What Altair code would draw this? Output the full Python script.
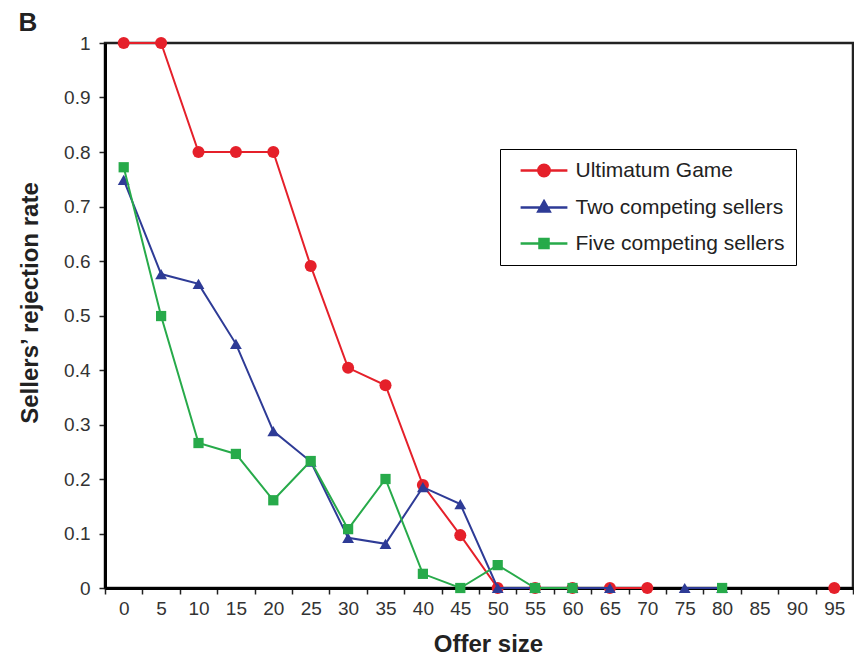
import altair as alt
import pandas as pd

# ---- data ----
offers = [0, 5, 10, 15, 20, 25, 30, 35, 40, 45, 50, 55, 60, 65, 70, 75, 80, 85, 90, 95]
ultimatum = [1.0, 1.0, 0.8, 0.8, 0.8, 0.591, 0.404, 0.372, 0.189, 0.097,
             0.0, 0.0, 0.0, 0.0, 0.0, None, None, None, None, 0.0]
two_sellers = [0.749, 0.576, 0.558, 0.448, 0.288, 0.232, 0.092, 0.081, 0.185, 0.154,
               0.0, 0.0, 0.0, 0.0, None, 0.0, 0.0, None, None, None]
five_sellers = [0.772, 0.499, 0.266, 0.246, 0.161, 0.233, 0.108, 0.2, 0.026, 0.0,
                0.042, 0.0, 0.0, None, None, None, 0.0, None, None, None]

series_names = ["Ultimatum Game", "Two competing sellers", "Five competing sellers"]
series_colors = ["#E5202A", "#2E3B96", "#27AA4A"]
series_shapes = ["circle", "triangle-up", "square"]
series_sizes = [145, 140, 105]
legend_paths = [
    "M-3.9,0H3.9M-0.95,0A0.95,0.95,0,1,0,0.95,0A0.95,0.95,0,1,0,-0.95,0Z",
    "M-3.9,0H3.9M0,-1.05L0.95,0.65L-0.95,0.65Z",
    "M-3.9,0H3.9M-0.75,-0.75H0.75V0.75H-0.75Z",
]
y_ticks = [0, 0.1, 0.2, 0.3, 0.4, 0.5, 0.6, 0.7, 0.8, 0.9, 1.0]

rows = []
for name, vals in zip(series_names, [ultimatum, two_sellers, five_sellers]):
    for o, v in zip(offers, vals):
        rows.append({"offer": o, "rate": v, "series": name})
df = pd.DataFrame(rows)

FONT = "Liberation Sans"
W, H = 748, 545

x_enc = alt.X(
    "offer:O",
    sort=offers,
    bandPosition=0.5,
    scale=alt.Scale(type="band", paddingInner=0, paddingOuter=0),
    axis=alt.Axis(
        title="Offer size", labelAngle=0, tickBand="extent", grid=False,
        domainColor="black", domainWidth=3, tickColor="#222", tickWidth=1.5, tickSize=6,
        labelFont=FONT, labelFontSize=19, labelColor="#333", labelPadding=5,
        titleFont=FONT, titleFontSize=24, titleFontWeight="bold", titleColor="#222",
        titlePadding=14, titleX=W / 2 + 9,
    ),
)
y_enc = alt.Y(
    "rate:Q",
    scale=alt.Scale(domain=[0, 1], nice=False),
    axis=alt.Axis(
        title="Sellers\u2019 rejection rate", values=y_ticks, format=".1~f", grid=False,
        domainColor="black", domainWidth=3, tickColor="#222", tickWidth=1.5, tickSize=6,
        labelFont=FONT, labelFontSize=19, labelColor="#333", labelPadding=9,
        titleFont=FONT, titleFontSize=24, titleFontWeight="bold", titleColor="#222",
        titlePadding=21, titleY=H / 2 - 13,
    ),
)

base = alt.Chart(df)
layers = []
for name, color, shape, size in zip(series_names, series_colors, series_shapes, series_sizes):
    sub = base.transform_filter(alt.datum.series == name)
    layers.append(
        sub.mark_line(color=color, strokeWidth=2, invalid="break-paths-show-domains")
        .encode(x=x_enc, y=y_enc)
    )
    layers.append(
        sub.mark_point(filled=True, shape=shape, size=size, color=color, opacity=1)
        .encode(x=x_enc, y=y_enc)
    )

leg = alt.Legend(
    title=None, orient="none", legendX=395, legendY=106,
    strokeColor="black", fillColor="white", padding=11, labelLimit=400,
    labelFont=FONT, labelFontSize=21, labelColor="#222",
    symbolSize=144, symbolStrokeWidth=2.5, symbolOffset=22.5, labelOffset=21,
    rowPadding=14,
)
legend_layer = (
    base.transform_filter("false")
    .mark_point(filled=True, size=144, strokeWidth=2.5, opacity=1)
    .encode(
        x=x_enc, y=y_enc,
        shape=alt.Shape("series:N", scale=alt.Scale(domain=series_names, range=legend_paths), legend=leg),
        fill=alt.Fill("series:N", scale=alt.Scale(domain=series_names, range=series_colors), legend=leg),
        stroke=alt.Stroke("series:N", scale=alt.Scale(domain=series_names, range=series_colors), legend=leg),
    )
)
layers.append(legend_layer)

chart = (
    alt.layer(*layers)
    .properties(
        width=W, height=H,
        title=alt.TitleParams("B", anchor="start", frame="bounds", fontSize=26, font=FONT,
                              fontWeight="bold", color="#222", offset=-2),
        padding={"left": 10, "top": 2, "right": 0, "bottom": 0},
    )
    .configure_view(stroke="#222", strokeWidth=2.5)
)

chart.save("out.html", embed_options={"renderer": "svg", "actions": False})
